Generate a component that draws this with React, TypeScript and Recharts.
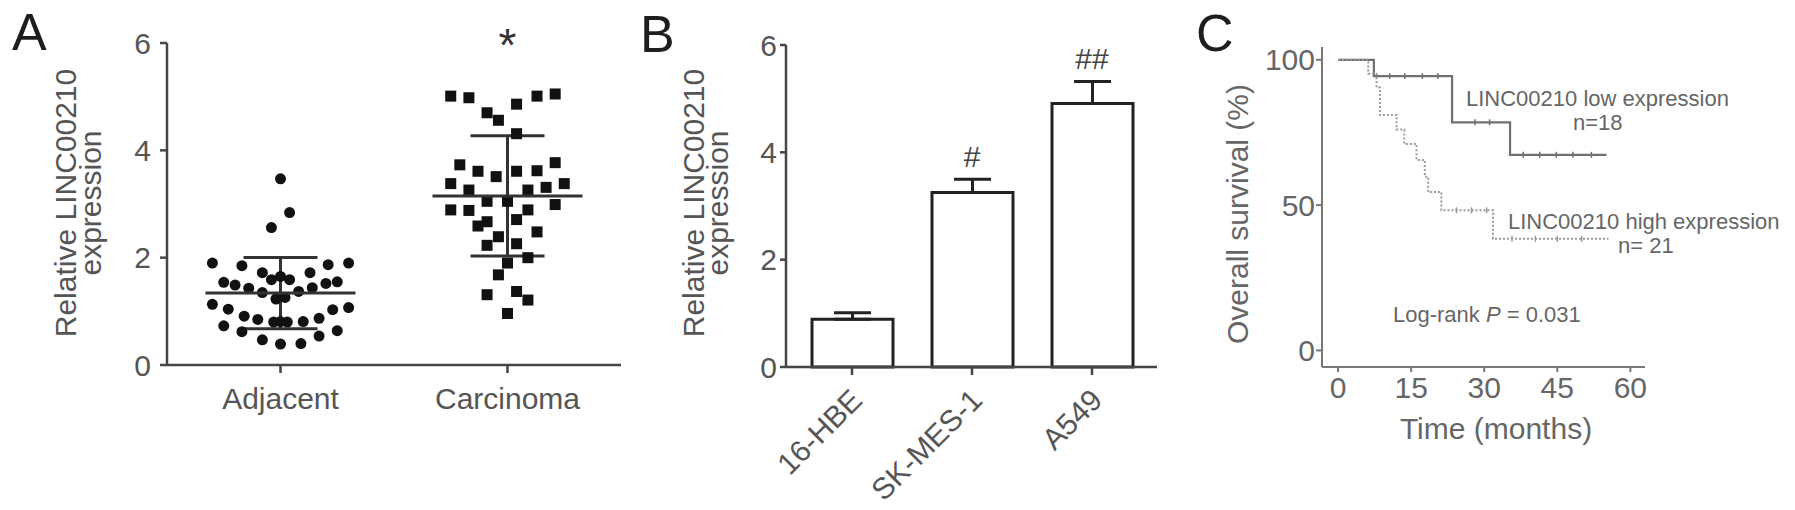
import React from 'react';
import {
  ScatterChart,
  Scatter,
  BarChart,
  Bar,
  ComposedChart,
  Line,
  XAxis,
  YAxis,
  ErrorBar,
  ReferenceDot,
} from 'recharts';

const FONT = '"Liberation Sans", Arial, Helvetica, sans-serif';

// ---- panel A: single samples, value + horizontal jitter (in category widths)
const adjacentValues = [
  1.9, 1.85, 1.72, 1.65, 1.59, 1.59, 1.72, 1.87, 1.9, 1.54, 1.49, 1.43, 1.35, 1.37, 1.44, 1.52, 1.55,
  1.23, 1.26, 1.13, 1.04, 0.91, 0.85, 0.8, 0.81, 0.8, 0.81, 0.87, 1.03, 1.07, 0.73, 0.62, 0.47, 0.39,
  0.4, 0.54, 0.64, 2.56, 2.84, 3.47,
];
const adjacentJitter = [
  -0.3, -0.17, -0.08, 0, -0.04, 0.04, 0.13, 0.21, 0.3, -0.25, -0.2, -0.14, -0.08, 0.08, 0.14, 0.2, 0.25,
  -0.02, 0.02, -0.3, -0.23, -0.16, -0.1, -0.03, 0, 0.03, 0.1, 0.17, 0.23, 0.3, -0.25, -0.17, -0.08, 0,
  0.09, 0.17, 0.25, -0.04, 0.04, 0,
];
const carcinomaValues = [
  5.01, 4.98, 4.7, 4.56, 4.86, 5.01, 5.05, 4.31, 3.73, 3.61, 3.51, 3.61, 3.62, 3.77, 3.38, 3.26, 3.26,
  3.31, 3.38, 3.05, 3.05, 2.89, 2.88, 2.89, 2.99, 2.59, 2.67, 2.71, 2.48, 2.39, 2.23, 2.26, 2.0, 1.9,
  1.68, 1.31, 1.37, 1.21, 0.96,
];
const carcinomaJitter = [
  -0.25, -0.17, -0.09, -0.04, 0.04, 0.13, 0.21, 0.04, -0.21, -0.13, -0.05, 0.04, 0.13, 0.21, -0.25,
  -0.17, 0.09, 0.17, 0.25, -0.09, 0, -0.25, -0.17, 0.09, 0.21, -0.13, -0.09, 0.04, 0.13, -0.04, -0.09,
  0.04, 0.09, 0, -0.04, -0.09, 0.04, 0.09, 0,
];
const groupNames = ['Adjacent', 'Carcinoma'];
const groupMeans = [1.34, 3.15];
const groupSD = [0.665, 1.12];
const groupMarks = ['', '*'];
const exprTicks = [0, 2, 4, 6];

// ---- panel B: cell lines
const cellLines = ['16-HBE', 'SK-MES-1', 'A549'];
const cellMeans = [0.89, 3.25, 4.91];
const cellErr = [0.12, 0.25, 0.41];
const cellMarks = ['', '#', '##'];

// ---- panel C: Kaplan-Meier
const lowTime = [0, 7.35, 23.4, 35.3, 55.1];
const lowSurv = [100, 94.4, 78.5, 67.3, 67.3];
const highTime = [0, 6.2, 7.9, 8.6, 12.0, 13.6, 16.1, 17.8, 18.5, 21.2, 31.8, 55.5];
const highSurv = [100, 95.2, 90.5, 81.0, 76.0, 71.0, 65.5, 59.8, 54.5, 48.2, 38.4, 38.4];
const lowCensorTime = [10.6, 13.7, 17.3, 20.5, 28.1, 31.1, 38.0, 41.4, 44.8, 48.2, 52.0];
const lowCensorSurv = [94.4, 94.4, 94.4, 94.4, 78.5, 78.5, 67.3, 67.3, 67.3, 67.3, 67.3];
const highCensorTime = [24.3, 27.4, 30.5, 35.7, 40.5, 45.0, 50.0];
const highCensorSurv = [48.2, 48.2, 48.2, 38.4, 38.4, 38.4, 38.4];
const timeTicks = [0, 15, 30, 45, 60];
const survTicks = [0, 50, 100];

const adjPts = adjacentValues.map((v, i) => ({ x: 0.5 + adjacentJitter[i], y: v }));
const carPts = carcinomaValues.map((v, i) => ({ x: 1.5 + carcinomaJitter[i], y: v }));
const meanPts = groupMeans.map((m, i) => ({ x: 0.5 + i, y: m, sd: groupSD[i] }));

const barData = cellLines.map((name, i) => ({
  name,
  mean: cellMeans[i],
  err: [0, cellErr[i]],
  top: cellMeans[i] + cellErr[i],
  mark: cellMarks[i],
}));

const lowData = lowTime.map((t, i) => ({ t, s: lowSurv[i] }));
const highData = highTime.map((t, i) => ({ t, s: highSurv[i] }));
const lowCensor = lowCensorTime.map((t, i) => ({ t, s: lowCensorSurv[i] }));
const highCensor = highCensorTime.map((t, i) => ({ t, s: highCensorSurv[i] }));

const AXIS = '#454545';
const TXT = '#555';

const Circle = (p: any) => <circle cx={p.cx} cy={p.cy} r={5.5} fill="#111" />;
const Square = (p: any) => <rect x={p.cx - 5.5} y={p.cy - 5.5} width={11} height={11} fill="#111" />;
const MeanLine = (p: any) => (
  <line x1={p.cx - 75} x2={p.cx + 75} y1={p.cy} y2={p.cy} stroke="#333" strokeWidth={3} />
);
const censor = (color: string) => (p: any) =>
  <line x1={p.cx} x2={p.cx} y1={p.cy - 3} y2={p.cy + 3} stroke={color} strokeWidth={1.5} />;

const RotTick = (p: any) => (
  <text
    transform={`translate(${p.x + 12},${p.y + 25}) rotate(-45)`}
    textAnchor="end"
    fill={TXT}
    fontSize={30}
    fontFamily={FONT}
  >
    {p.payload.value}
  </text>
);

const tickText = { fill: TXT, fontSize: 30, fontFamily: FONT };

export default function App() {
  return (
    <div style={{ position: 'absolute', left: 0, top: 0, width: 1795, height: 510, background: '#fff', fontFamily: FONT }}>
      {/* A */}
      <div style={{ position: 'absolute', left: 0, top: 0 }}>
        <ScatterChart width={640} height={510} margin={{ top: 43, right: 19, bottom: 85, left: 0 }}>
          <XAxis
            type="number"
            dataKey="x"
            domain={[0, 2]}
            ticks={[0.5, 1.5]}
            tickFormatter={(v) => groupNames[Math.round(v - 0.5)]}
            height={60}
            axisLine={{ stroke: AXIS, strokeWidth: 2.5 }}
            tickLine={{ stroke: AXIS, strokeWidth: 2.5 }}
            tickSize={8}
            tickMargin={15}
            tick={tickText}
          />
          <YAxis
            type="number"
            dataKey="y"
            domain={[0, 6]}
            ticks={exprTicks}
            width={167}
            axisLine={{ stroke: AXIS, strokeWidth: 2.5 }}
            tickLine={{ stroke: AXIS, strokeWidth: 2.5 }}
            tickSize={7}
            tickMargin={9}
            tick={tickText}
            label={{
              content: () => (
                <g fill={TXT} fontSize={30} fontFamily={FONT} textAnchor="middle">
                  <text transform="translate(76,203) rotate(-90)">Relative LINC00210</text>
                  <text transform="translate(101,203) rotate(-90)">expression</text>
                </g>
              ),
            }}
          />
          <Scatter data={adjPts} shape={Circle} isAnimationActive={false} />
          <Scatter data={carPts} shape={Square} isAnimationActive={false} />
          <Scatter data={meanPts} shape={MeanLine} isAnimationActive={false}>
            <ErrorBar dataKey="sd" direction="y" width={37} stroke="#333" strokeWidth={3} />
          </Scatter>
          {groupMarks.map((m, i) =>
            m ? (
              <ReferenceDot
                key={i}
                x={0.5 + i}
                y={6}
                r={0}
                ifOverflow="visible"
                label={{
                  content: (p: any) => (
                    <text x={p.viewBox.x} y={p.viewBox.y + 18} textAnchor="middle" fill="#333" fontSize={46} fontFamily={FONT}>
                      {m}
                    </text>
                  ),
                }}
              />
            ) : null
          )}
        </ScatterChart>
      </div>

      {/* B */}
      <div style={{ position: 'absolute', left: 640, top: 0 }}>
        <BarChart width={530} height={510} data={barData} barSize={81} margin={{ top: 45, right: 13, bottom: 83, left: 0 }}>
          <XAxis
            dataKey="name"
            padding={{ left: 6, right: 5 }}
            height={60}
            interval={0}
            axisLine={{ stroke: AXIS, strokeWidth: 2.5 }}
            tickLine={{ stroke: AXIS, strokeWidth: 2.5 }}
            tickSize={8}
            tick={<RotTick />}
          />
          <YAxis
            domain={[0, 6]}
            ticks={exprTicks}
            width={146}
            axisLine={{ stroke: AXIS, strokeWidth: 2.5 }}
            tickLine={{ stroke: AXIS, strokeWidth: 2.5 }}
            tickSize={6}
            tickMargin={3}
            tick={tickText}
            label={{
              content: () => (
                <g fill={TXT} fontSize={30} fontFamily={FONT} textAnchor="middle">
                  <text transform="translate(64,203) rotate(-90)">Relative LINC00210</text>
                  <text transform="translate(88,203) rotate(-90)">expression</text>
                </g>
              ),
            }}
          />
          <Bar dataKey="mean" fill="#fff" stroke="#222" strokeWidth={3} isAnimationActive={false}>
            <ErrorBar dataKey="err" direction="y" width={18.5} stroke="#222" strokeWidth={3} />
          </Bar>
          {barData.map((d) =>
            d.mark ? (
              <ReferenceDot
                key={d.name}
                x={d.name}
                y={d.top}
                r={0}
                ifOverflow="visible"
                label={{
                  content: (p: any) => (
                    <text x={p.viewBox.x} y={p.viewBox.y - 12} textAnchor="middle" fill="#444" fontSize={30} fontFamily={FONT}>
                      {d.mark}
                    </text>
                  ),
                }}
              />
            ) : null
          )}
        </BarChart>
      </div>

      {/* C */}
      <div style={{ position: 'absolute', left: 1170, top: 0 }}>
        <ComposedChart width={625} height={510} margin={{ top: 47, right: 150, bottom: 83, left: 0 }}>
          <XAxis
            type="number"
            dataKey="t"
            domain={[-3.3, 63]}
            ticks={timeTicks}
            allowDataOverflow
            height={60}
            axisLine={{ stroke: '#777', strokeWidth: 2 }}
            tickLine={{ stroke: '#777', strokeWidth: 2 }}
            tickSize={5}
            tickMargin={5}
            tick={{ ...tickText, fill: '#666' }}
            label={{
              content: () => (
                <text x={326} y={439} textAnchor="middle" fill="#666" fontSize={30} fontFamily={FONT}>
                  Time (months)
                </text>
              ),
            }}
          />
          <YAxis
            type="number"
            domain={[-5.7, 104.4]}
            ticks={survTicks}
            allowDataOverflow
            width={152}
            axisLine={{ stroke: '#777', strokeWidth: 2 }}
            tickLine={{ stroke: '#777', strokeWidth: 2 }}
            tickSize={6}
            tickMargin={1}
            tick={{ ...tickText, fill: '#666' }}
            label={{
              content: () => (
                <text transform="translate(78,214) rotate(-90)" textAnchor="middle" fill="#666" fontSize={30} fontFamily={FONT}>
                  Overall survival (%)
                </text>
              ),
            }}
          />
          <Line data={lowData} dataKey="s" type="stepAfter" stroke="#707070" strokeWidth={2.2} dot={false} isAnimationActive={false} />
          <Line
            data={highData}
            dataKey="s"
            type="stepAfter"
            stroke="#9a9a9a"
            strokeWidth={2}
            strokeDasharray="2 2"
            dot={false}
            isAnimationActive={false}
          />
          <Scatter data={lowCensor} dataKey="s" shape={censor('#707070')} isAnimationActive={false} />
          <Scatter data={highCensor} dataKey="s" shape={censor('#9a9a9a')} isAnimationActive={false} />
        </ComposedChart>
      </div>

      {/* panel letters and annotations */}
      <svg width={1795} height={510} style={{ position: 'absolute', left: 0, top: 0, pointerEvents: 'none' }}>
        <g fill="#1e1e1e" fontSize={52} fontFamily={FONT}>
          <text x={12} y={50}>A</text>
          <text x={640} y={52}>B</text>
          <text x={1196} y={51}>C</text>
        </g>
        <g fill="#666" fontSize={22} fontFamily={FONT}>
          <text x={1466} y={106}>LINC00210 low expression</text>
          <text x={1573} y={130}>n=18</text>
          <text x={1508} y={229}>LINC00210 high expression</text>
          <text x={1618} y={253}>n= 21</text>
          <text x={1393} y={322}>
            Log-rank <tspan fontStyle="italic">P</tspan> = 0.031
          </text>
        </g>
      </svg>
    </div>
  );
}
